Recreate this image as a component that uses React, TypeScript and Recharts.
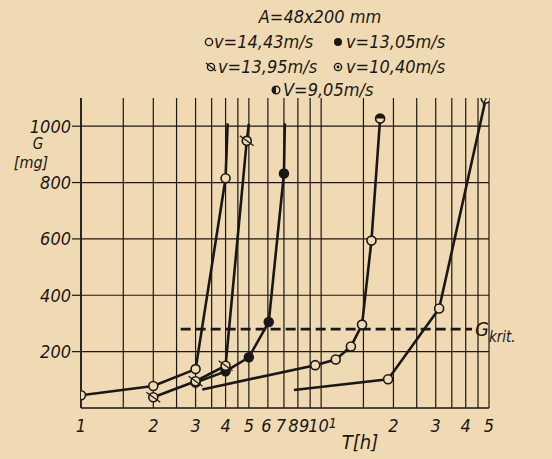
import React from 'react';
import { CartesianGrid, Line, LineChart, XAxis, YAxis } from 'recharts';

// values (T in hours, log axis; G in mg)
const tA = [1, 2, 3, 4, 4.08];
const gA = [45, 78, 138, 815, 1010];

const tB = [2, 3, 4, 4.9, 5.0];
const gB = [38, 95, 150, 948, 1008];

const tC = [3, 4, 5, 6.05, 7, 7.06];
const gC = [90, 130, 180, 305, 832, 1010];

const tD = [3.2, 9.45, 11.5, 13.3, 14.8, 16.2, 17.6];
const gD = [66, 152, 172, 218, 296, 594, 1027];

const tE = [7.7, 19, 31, 48.5];
const gE = [64, 102, 353, 1098];

const tKrit = [2.6, 42.5];
const gKrit = [280, 280];

const xTicks = [1, 2, 3, 4, 5, 6, 7, 8, 9, 10, 20, 30, 40, 50];
const xGrid = [1, 1.5, 2, 2.5, 3, 3.5, 4, 4.5, 5, 6, 7, 8, 9, 10, 15, 20, 25, 30, 35, 40, 45, 50];
const yTicks = [200, 400, 600, 800, 1000];

const PAPER = '#f0dab4';
const INK = '#1a1816';
const FONT = "'DejaVu Sans Condensed', 'DejaVu Sans', sans-serif";

type Mark = 'open' | 'filled' | 'crossed' | 'half' | 'slash' | 'none';

const zip = (t: number[], g: number[]) => t.map((v, i) => ({ t: v, g: g[i] }));

const series: { key: string; data: { t: number; g: number }[]; marks: Mark[] }[] = [
  { key: 'a', data: zip(tA, gA), marks: ['open', 'open', 'open', 'open', 'none'] },
  { key: 'c', data: zip(tC, gC), marks: ['filled', 'filled', 'filled', 'filled', 'filled', 'none'] },
  { key: 'b', data: zip(tB, gB), marks: ['crossed', 'crossed', 'crossed', 'crossed', 'none'] },
  { key: 'd', data: zip(tD, gD), marks: ['none', 'open', 'open', 'open', 'open', 'open', 'half'] },
  { key: 'e', data: zip(tE, gE), marks: ['none', 'open', 'open', 'slash'] },
];

function marker(kind: Mark, cx: number, cy: number, key: string | number) {
  const r = 4.5;
  if (kind === 'none' || cx == null || cy == null) return <g key={key} />;
  if (kind === 'filled') return <circle key={key} cx={cx} cy={cy} r={r} fill={INK} stroke={INK} strokeWidth={1.5} />;
  if (kind === 'half') {
    return (
      <g key={key}>
        <circle cx={cx} cy={cy} r={r} fill={PAPER} stroke={INK} strokeWidth={1.6} />
        <path d={`M${cx - r},${cy} A${r},${r} 0 0 1 ${cx + r},${cy} Z`} fill={INK} />
      </g>
    );
  }
  return (
    <g key={key}>
      <circle cx={cx} cy={cy} r={r} fill={PAPER} stroke={INK} strokeWidth={1.6} />
      {kind === 'crossed' && <line x1={cx - 7} y1={cy - 5} x2={cx + 7} y2={cy + 5} stroke={INK} strokeWidth={1.2} />}
      {kind === 'slash' && <line x1={cx - 3} y1={cy + 6} x2={cx + 4} y2={cy - 7} stroke={INK} strokeWidth={1.2} />}
    </g>
  );
}

function XTick({ x, y, payload }: any) {
  const v = payload.value as number;
  const style = { fontSize: 18, fontStyle: 'italic' as const, fontFamily: FONT, fill: INK };
  if (v === 10) {
    return (
      <text x={x - 13} y={y + 22} textAnchor="start" {...style}>
        10<tspan dy={-4} fontSize={14}>1</tspan>
      </text>
    );
  }
  // the crowded 6..9 labels sit a little left of their lines, as in the original
  const shift = v >= 6 && v <= 9 ? -(v - 5) * 1.5 : 0;
  return (
    <text x={x + shift} y={y + 22} textAnchor="middle" {...style}>
      {v >= 20 ? String(v / 10) : String(v)}
    </text>
  );
}

function LegendIcon({ kind, x, y }: { kind: Mark | 'dot'; x: number; y: number }) {
  if (kind === 'dot') {
    return (
      <g>
        <circle cx={x} cy={y} r={3.6} fill="none" stroke={INK} strokeWidth={1.4} />
        <circle cx={x} cy={y} r={1.4} fill={INK} />
      </g>
    );
  }
  if (kind === 'half') {
    return (
      <g>
        <circle cx={x} cy={y} r={3.8} fill={PAPER} stroke={INK} strokeWidth={1.4} />
        <path d={`M${x},${y - 3.8} A3.8,3.8 0 0 0 ${x},${y + 3.8} Z`} fill={INK} />
      </g>
    );
  }
  if (kind === 'filled') return <circle cx={x} cy={y} r={4} fill={INK} />;
  return (
    <g>
      <circle cx={x} cy={y} r={3.6} fill="none" stroke={INK} strokeWidth={1.4} />
      {kind === 'crossed' && <line x1={x - 5} y1={y - 4} x2={x + 5} y2={y + 4} stroke={INK} strokeWidth={1.2} />}
    </g>
  );
}

export default function App() {
  const textStyle = { fontFamily: FONT, fontStyle: 'italic' as const, fill: INK };
  return (
    <div style={{ position: 'absolute', left: 0, top: 0, width: 552, height: 459, background: PAPER }}>
      <LineChart
        width={552}
        height={459}
        margin={{ top: 98, right: 63, bottom: 11, left: 21 }}
        style={{ position: 'absolute', left: 0, top: 0 }}
      >
        <CartesianGrid stroke={INK} strokeWidth={1.2} verticalValues={xGrid} horizontalValues={yTicks} />
        <XAxis
          type="number"
          dataKey="t"
          scale="log"
          domain={[1, 50]}
          ticks={xTicks}
          interval={0}
          height={40}
          tickSize={0}
          tickLine={false}
          axisLine={{ stroke: INK, strokeWidth: 1.6 }}
          tick={<XTick />}
          allowDataOverflow
        />
        <YAxis
          type="number"
          dataKey="g"
          domain={[0, 1100]}
          ticks={yTicks}
          interval={0}
          width={60}
          tickSize={9}
          tickMargin={1}
          tickLine={{ stroke: INK, strokeWidth: 1.2 }}
          axisLine={{ stroke: INK, strokeWidth: 1.6 }}
          tick={{ fontSize: 18, fontStyle: 'italic', fontFamily: FONT, fill: INK }}
          allowDataOverflow
        />
        {series.map((s) => (
          <Line
            key={s.key}
            data={s.data}
            dataKey="g"
            type="linear"
            stroke={INK}
            strokeWidth={2.6}
            isAnimationActive={false}
            dot={(p: any) => marker(s.marks[p.index], p.cx, p.cy, `${s.key}-${p.index}`)}
            activeDot={false}
          />
        ))}
        <Line
          data={zip(tKrit, gKrit)}
          dataKey="g"
          type="linear"
          stroke={INK}
          strokeWidth={2.6}
          strokeDasharray="10 5"
          isAnimationActive={false}
          activeDot={false}
          dot={false}
        />
      </LineChart>
      <svg width={552} height={459} style={{ position: 'absolute', left: 0, top: 0, pointerEvents: 'none' }}>
        <text x={320} y={23} textAnchor="middle" fontSize={18} {...textStyle}>A=48x200 mm</text>
        <LegendIcon kind="open" x={209} y={42} />
        <text x={214} y={48} fontSize={18} {...textStyle}>v=14,43m/s</text>
        <LegendIcon kind="filled" x={338} y={42} />
        <text x={346} y={48} fontSize={18} {...textStyle}>v=13,05m/s</text>
        <LegendIcon kind="crossed" x={211} y={67} />
        <text x={218} y={73} fontSize={18} {...textStyle}>v=13,95m/s</text>
        <LegendIcon kind="dot" x={338} y={67} />
        <text x={346} y={73} fontSize={18} {...textStyle}>v=10,40m/s</text>
        <LegendIcon kind="half" x={276} y={90} />
        <text x={283} y={96} fontSize={18} {...textStyle}>V=9,05m/s</text>
        <text x={38} y={149} textAnchor="middle" fontSize={15} {...textStyle}>G</text>
        <text x={31} y={168} textAnchor="middle" fontSize={16} {...textStyle}>[mg]</text>
        <text x={360} y={449} textAnchor="middle" fontSize={20} {...textStyle}>T[h]</text>
        <text x={475} y={336} fontSize={20} {...textStyle}>
          G<tspan dy={6} fontSize={15}>krit.</tspan>
        </text>
      </svg>
    </div>
  );
}
